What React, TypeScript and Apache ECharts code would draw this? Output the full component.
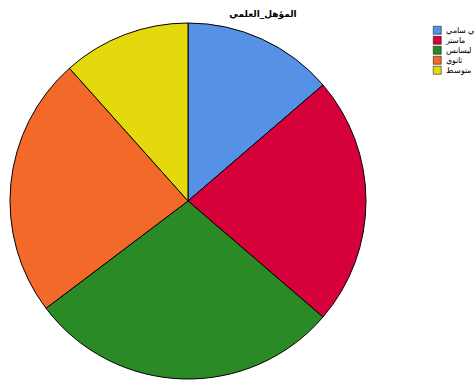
import React, { useEffect, useRef } from "react";
import * as echarts from "echarts";

const categories = ["تقني سامي", "ماستر", "ليسانس", "ثانوي", "متوسط"];
const values = [13.7, 22.6, 28.4, 23.7, 11.6];
const colors = ["#5592e6", "#d6003a", "#2a8a26", "#f2692a", "#e3d90c"];
const titleText = "المؤهل_العلمي";

export default function App() {
  const ref = useRef<HTMLDivElement>(null);
  useEffect(() => {
    if (!ref.current) return;
    const chart = echarts.init(ref.current, null, { renderer: "svg" });
    chart.setOption({
      animation: false,
      backgroundColor: "#ffffff",
      color: colors,
      graphic: [
        {
          type: "text",
          x: 263,
          y: 14,
          style: {
            text: titleText,
            textAlign: "center",
            textVerticalAlign: "middle",
            font: "bold 9px 'DejaVu Sans', sans-serif",
            fill: "#000",
          },
        },
      ],
      legend: {
        orient: "vertical",
        left: 428,
        top: 21,
        itemWidth: 8,
        itemHeight: 8,
        itemGap: 1.5,
        icon: "rect",
        itemStyle: { borderColor: "#000", borderWidth: 0.5 },
        textStyle: { fontSize: 8, color: "#000" },
        data: categories.map((c) => ({ name: c, textStyle: { color: "#000" } })),
      },
      series: [
        {
          type: "pie",
          center: [188, 201],
          radius: 178,
          startAngle: 90,
          clockwise: true,
          label: { show: false },
          labelLine: { show: false },
          emphasis: { disabled: true },
          itemStyle: { borderColor: "#000", borderWidth: 1 },
          data: categories.map((c, i) => ({ name: c, value: values[i] })),
        },
      ],
    });
    return () => chart.dispose();
  }, []);
  return (
    <div
      ref={ref}
      style={{ position: "absolute", left: 0, top: 0, width: 474, height: 381 }}
    />
  );
}
